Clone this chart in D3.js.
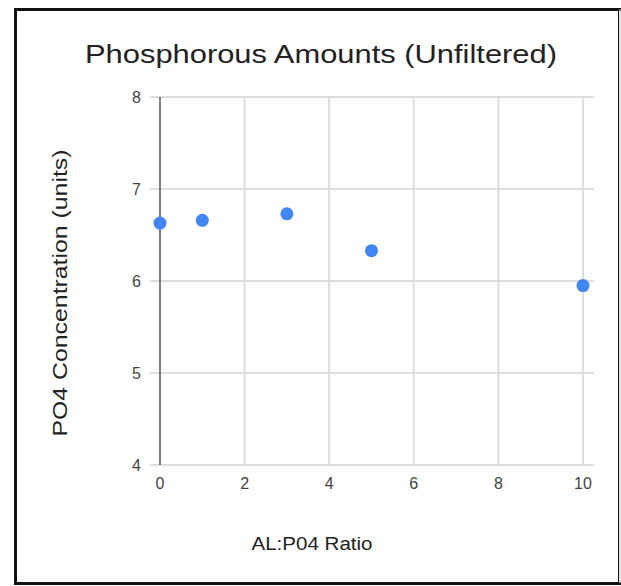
<!DOCTYPE html>
<html>
<head>
<meta charset="utf-8">
<script src="https://cdn.jsdelivr.net/npm/d3@7"></script>
<style>
  body { margin: 0; background: #fff; }
  svg { display: block; }
  text { font-family: "Liberation Sans", Arial, sans-serif; }
</style>
</head>
<body>
<svg width="621" height="586"></svg>
<script>
var ratios = [0, 1, 3, 5, 10]
var po4 = [6.63, 6.66, 6.73, 6.33, 5.95]
var xTicks = [0, 2, 4, 6, 8, 10]
var yTicks = [4, 5, 6, 7, 8]

var svg = d3.select('svg')

// frame round the chart
svg.append('rect')
  .attr('x', 15.5).attr('y', 9.5)
  .attr('width', 604).attr('height', 574)
  .attr('fill', 'white')
  .attr('stroke', '#111')
  .attr('stroke-width', 3)
svg.append('rect').attr('x', 619).attr('y', 11).attr('width', 2).attr('height', 571).attr('fill', '#fff')
svg.append('line')
  .attr('x1', 620).attr('x2', 620).attr('y1', 9).attr('y2', 583)
  .attr('stroke', '#ccc').attr('stroke-width', 1)

var x = d3.scaleLinear().domain([0, 10]).range([160, 583])
var y = d3.scaleLinear().domain([4, 8]).range([465, 97])

// horizontal grid
svg.append('g')
  .selectAll('line')
  .data(yTicks)
  .enter()
  .append('line')
    .attr('x1', 150).attr('x2', 594)
    .attr('y1', d => y(d)).attr('y2', d => y(d))
    .attr('stroke', '#ddd').attr('stroke-width', 2)

// vertical grid
svg.append('g')
  .selectAll('line')
  .data(xTicks.filter(d => d !== 0))
  .enter()
  .append('line')
    .attr('x1', d => x(d)).attr('x2', d => x(d))
    .attr('y1', y(8)).attr('y2', y(4))
    .attr('stroke', '#ddd').attr('stroke-width', 2)

// y axis line at x = 0
svg.append('line')
  .attr('x1', x(0)).attr('x2', x(0))
  .attr('y1', y(8)).attr('y2', y(4))
  .attr('stroke', '#555').attr('stroke-width', 1.5)

svg.append('g')
  .selectAll('text')
  .data(yTicks)
  .enter()
  .append('text')
    .attr('x', 141).attr('y', d => y(d) + 5.5)
    .attr('text-anchor', 'end')
    .attr('font-size', 16)
    .attr('fill', '#444')
    .text(d => d)

svg.append('g')
  .selectAll('text')
  .data(xTicks)
  .enter()
  .append('text')
    .attr('x', d => x(d)).attr('y', 489)
    .attr('text-anchor', 'middle')
    .attr('font-size', 16)
    .attr('fill', '#444')
    .text(d => d)

svg.append('g')
  .selectAll('circle')
  .data(ratios)
  .enter()
  .append('circle')
    .attr('cx', d => x(d))
    .attr('cy', (d, i) => y(po4[i]))
    .attr('r', 6.5)
    .attr('fill', '#4285f4')

svg.append('text')
  .attr('x', 321).attr('y', 63)
  .attr('text-anchor', 'middle')
  .attr('font-size', 25)
  .attr('textLength', 472)
  .attr('lengthAdjust', 'spacingAndGlyphs')
  .attr('fill', '#222')
  .text('Phosphorous Amounts (Unfiltered)')

svg.append('text')
  .attr('x', 312).attr('y', 550)
  .attr('text-anchor', 'middle')
  .attr('font-size', 18)
  .attr('textLength', 121)
  .attr('lengthAdjust', 'spacingAndGlyphs')
  .attr('fill', '#222')
  .text('AL:P04 Ratio')

svg.append('text')
  .attr('transform', 'translate(67,293) rotate(-90)')
  .attr('text-anchor', 'middle')
  .attr('font-size', 20)
  .attr('textLength', 287)
  .attr('lengthAdjust', 'spacingAndGlyphs')
  .attr('fill', '#222')
  .text('PO4 Concentration (units)')
</script>
</body>
</html>
